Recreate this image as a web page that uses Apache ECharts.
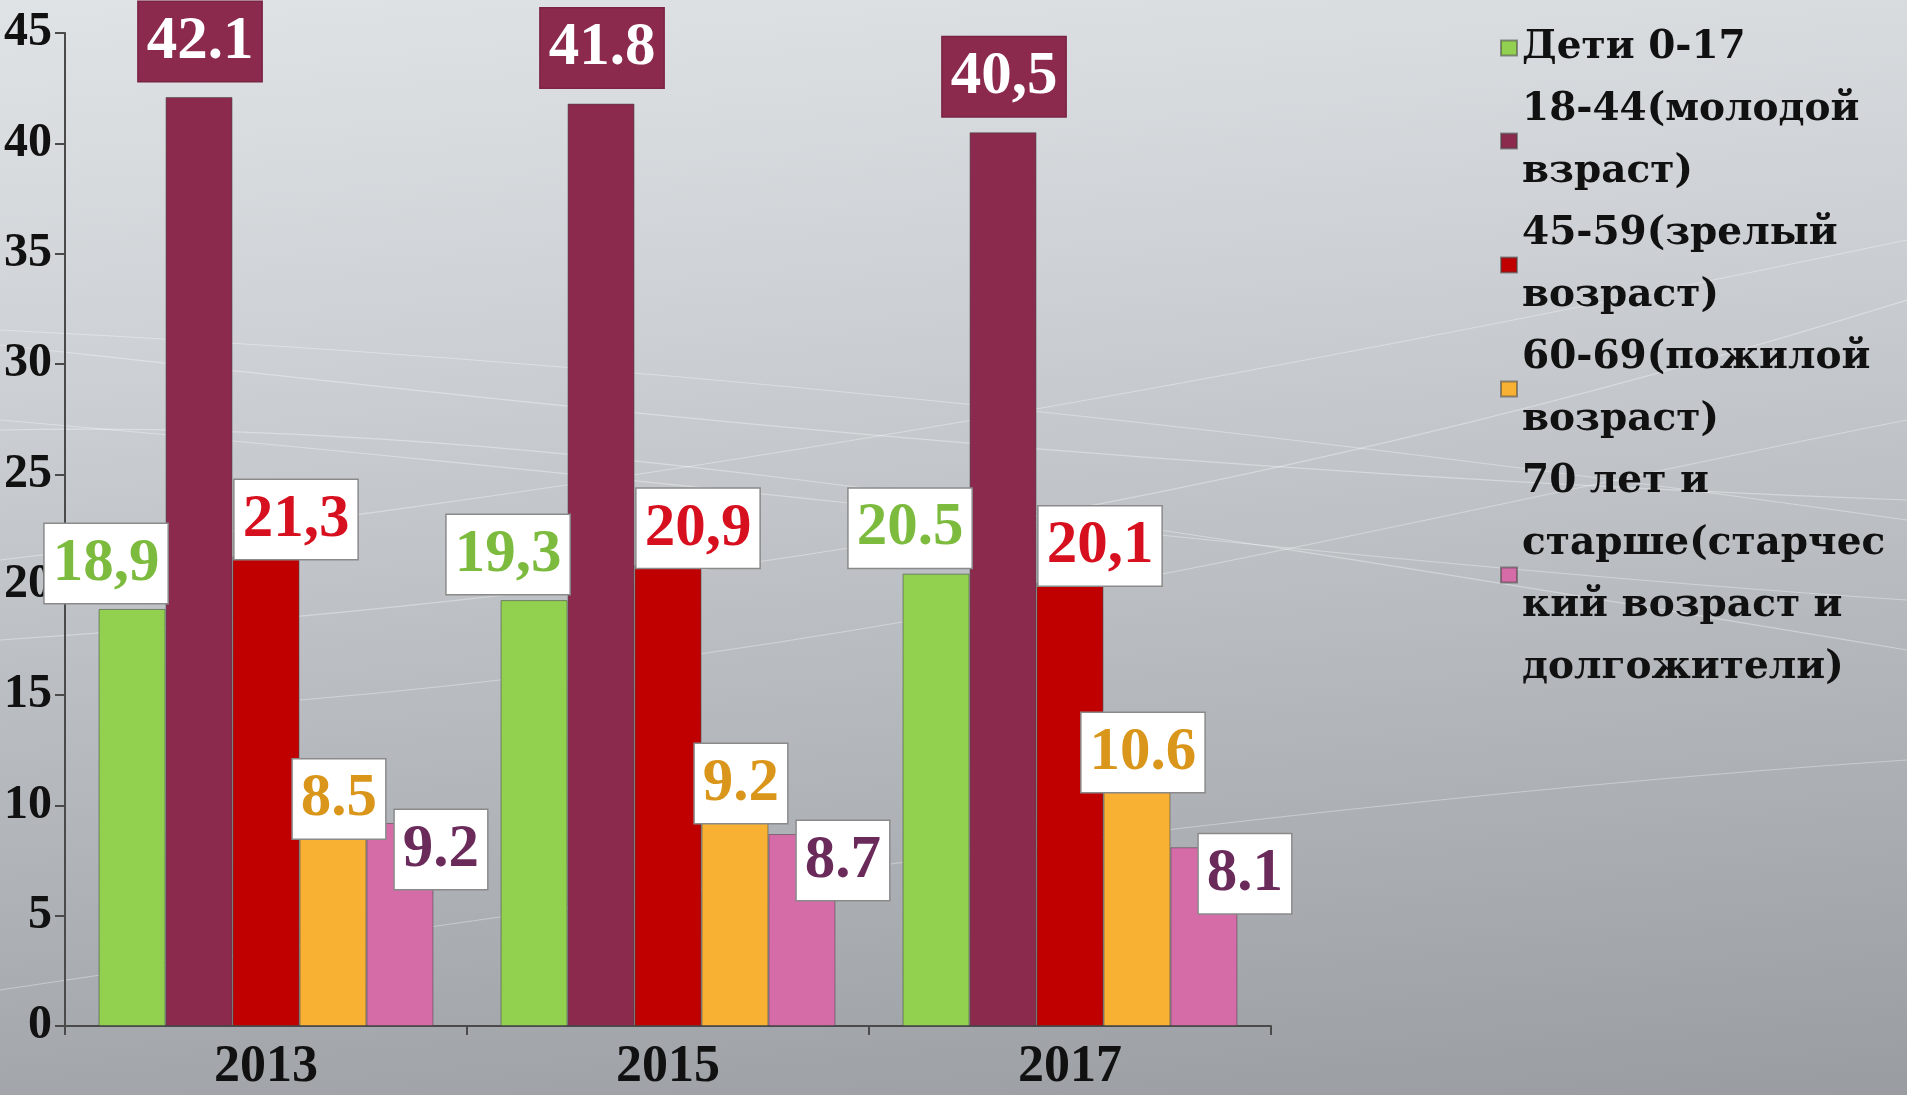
<!DOCTYPE html>
<html><head><meta charset="utf-8">
<script src="https://cdn.jsdelivr.net/npm/echarts@6/dist/echarts.min.js"></script>
<style>
html,body{margin:0;padding:0;width:1907px;height:1095px;overflow:hidden;}
body{background:linear-gradient(175deg,#e0e3e6 0%,#cdd1d5 30%,#b3b7bb 65%,#999da1 100%);}
#c{width:1907px;height:1095px;}
</style></head>
<body><div id="c"></div>
<script>
// ---- data ----
const years = ['2013', '2015', '2017'];
const seriesNames = [
  'Дети 0-17',
  '18-44(молодой\nвзраст)',
  '45-59(зрелый\nвозраст)',
  '60-69(пожилой\nвозраст)',
  '70 лет и\nстарше(старчес\nкий возраст и\nдолгожители)'
];
const children = [18.9, 19.3, 20.5];
const young = [42.1, 41.8, 40.5];
const mature = [21.3, 20.9, 20.1];
const elderly = [8.5, 9.2, 10.6];
const senile = [9.2, 8.7, 8.1];
const childrenLabels = ['18,9', '19,3', '20.5'];
const youngLabels = ['42.1', '41.8', '40,5'];
const matureLabels = ['21,3', '20,9', '20,1'];
const elderlyLabels = ['8.5', '9.2', '10.6'];
const senileLabels = ['9.2', '8.7', '8.1'];
const yMin = 0, yMax = 45, yStep = 5;

// ---- styling ----
const FONT = "'Liberation Serif', 'Times New Roman', serif";
const LEGEND_FONT = "'DejaVu Serif', 'Liberation Serif', serif";
const barColors = ['#92d050', '#8b2a4c', '#c00000', '#f8b133', '#d66ca7'];
const textColors = ['#7dbb3f', '#ffffff', '#d7101f', '#d9961a', '#6a2a5a'];
const labelBg = ['#ffffff', '#8b2a4c', '#ffffff', '#ffffff', '#ffffff'];
const labelBorder = ['#8a8a8a', '#7a2342', '#8a8a8a', '#8a8a8a', '#8a8a8a'];
const labelOffset = [[-26, 0], [1, 0], [30, 3], [6, 0], [41, 66]];
const labelDistance = [6, 16, 0, 0, 0];

const values = [children, young, mature, elderly, senile];
const labelTexts = [childrenLabels, youngLabels, matureLabels, elderlyLabels, senileLabels];

const series = values.map((vals, i) => ({
  name: seriesNames[i],
  type: 'bar',
  data: vals,
  barGap: '0%',
  barCategoryGap: '16.7%',
  itemStyle: { color: barColors[i], borderColor: 'rgba(70,70,70,0.55)', borderWidth: 1 },
  label: {
    show: true,
    position: 'top',
    distance: labelDistance[i],
    offset: labelOffset[i],
    formatter: p => labelTexts[i][p.dataIndex],
    fontFamily: FONT,
    fontWeight: 'bold',
    fontSize: 61,
    lineHeight: 66,
    color: textColors[i],
    backgroundColor: labelBg[i],
    borderColor: labelBorder[i],
    borderWidth: 1.5,
    padding: [7, 8, 6, 8]
  },
  z: 2
}));

const curves = [
  [0, 330, 600, 360, 1200, 420, 1907, 520],
  [0, 345, 500, 400, 1100, 470, 1907, 500],
  [0, 560, 500, 500, 1000, 430, 1907, 240],
  [0, 640, 600, 600, 1200, 520, 1907, 300],
  [0, 420, 700, 480, 1300, 560, 1907, 600],
  [300, 700, 900, 650, 1400, 520, 1907, 420],
  [0, 990, 600, 900, 1300, 800, 1907, 760],
  [0, 430, 500, 420, 1000, 500, 1907, 650]
];

const chart = echarts.init(document.getElementById('c'), null, { renderer: 'canvas' });
chart.setOption({
  backgroundColor: 'transparent',
  animation: false,
  graphic: curves.map(c => ({
    type: 'bezierCurve',
    z: -10,
    silent: true,
    shape: { x1: c[0], y1: c[1], cpx1: c[2], cpy1: c[3], cpx2: c[4], cpy2: c[5], x2: c[6], y2: c[7] },
    style: { stroke: 'rgba(255,255,255,0.35)', lineWidth: 1.2, fill: null }
  })),
  grid: { left: 65, right: 636, top: 33, bottom: 69, containLabel: false },
  legend: {
    orient: 'vertical',
    left: 1500,
    top: 17,
    padding: 0,
    itemGap: 0,
    itemWidth: 16,
    itemHeight: 15,
    icon: 'rect',
    data: seriesNames,
    textStyle: {
      fontFamily: LEGEND_FONT, fontWeight: 'bold', fontSize: 39, lineHeight: 62, color: '#111'
    }
  },
  xAxis: {
    type: 'category',
    data: years,
    axisLine: { lineStyle: { color: '#4a4a4a', width: 2 } },
    axisTick: { show: true, length: 9, lineStyle: { color: '#4a4a4a', width: 2 } },
    axisLabel: { fontFamily: FONT, fontWeight: 'bold', fontSize: 52, color: '#111', margin: 16 }
  },
  yAxis: {
    type: 'value',
    min: yMin, max: yMax, interval: yStep,
    splitLine: { show: false },
    axisLine: { show: true, lineStyle: { color: '#4a4a4a', width: 2 } },
    axisTick: { show: true, length: 10, lineStyle: { color: '#4a4a4a', width: 2 } },
    axisLabel: { fontFamily: FONT, fontWeight: 'bold', fontSize: 48, color: '#111', margin: 13 }
  },
  series: series
});
</script>
</body></html>
